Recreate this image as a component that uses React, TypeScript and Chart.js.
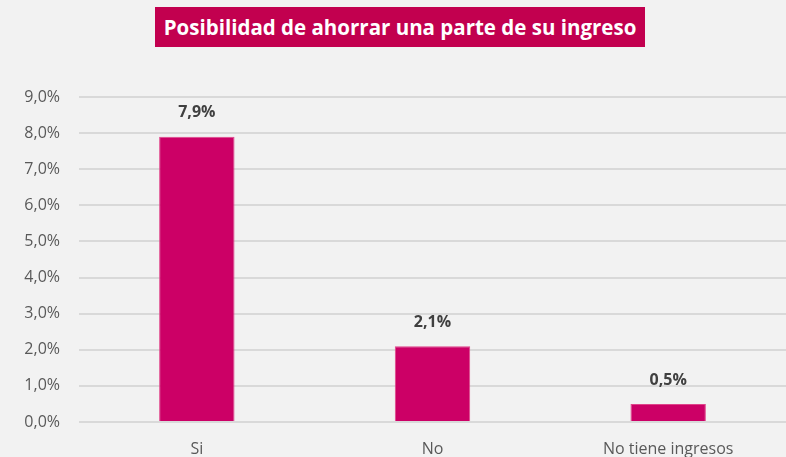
import React, { useEffect, useRef } from "react";
import { Chart, registerables } from "chart.js";
Chart.register(...registerables);

const categories = ["Si", "No", "No tiene ingresos"];
const values = [7.9, 2.1, 0.5];
const yTicks = [0, 1, 2, 3, 4, 5, 6, 7, 8, 9];
const titleText = "Posibilidad de ahorrar una parte de su ingreso";

const FONT = "'Open Sans', 'Noto Sans', sans-serif";
const fmt = (v: number) => v.toFixed(1).replace(".", ",") + "%";

const labelPlugin = {
  id: "barLabels",
  afterDatasetsDraw(chart: any) {
    const { ctx } = chart;
    const meta = chart.getDatasetMeta(0);
    ctx.save();
    ctx.font = `bold 16px ${FONT}`;
    ctx.fillStyle = "#404040";
    ctx.textAlign = "center";
    ctx.textBaseline = "middle";
    meta.data.forEach((bar: any, i: number) => {
      ctx.fillText(fmt(values[i]), bar.x, bar.y - 24);
    });
    ctx.restore();
  },
};

export default function App() {
  const ref = useRef<HTMLCanvasElement>(null);
  useEffect(() => {
    document.body.style.margin = "0";
    document.body.style.background = "#f2f2f2";
    const chart = new Chart(ref.current!, {
      type: "bar",
      data: {
        labels: categories,
        datasets: [
          {
            data: values,
            backgroundColor: "#cc0066",
            borderColor: "#e0448a",
            borderWidth: 1,
            categoryPercentage: 1,
            barPercentage: 0.32,
          },
        ],
      },
      options: {
        animation: false,
        responsive: false,
        maintainAspectRatio: false,
        layout: { padding: { top: 97, right: 0, left: 0, bottom: 0 } },
        plugins: { legend: { display: false }, tooltip: { enabled: false } },
        scales: {
          x: {
            afterFit: (s: any) => { s.height = 35; },
            grid: { display: false, drawTicks: false },
            border: { display: false },
            ticks: { color: "#595959", font: { family: FONT, size: 16 }, padding: 18 },
          },
          y: {
            min: 0,
            max: 9,
            afterFit: (s: any) => { s.width = 79; },
            afterBuildTicks: (s: any) => { s.ticks = yTicks.map((v) => ({ value: v })); },
            grid: { color: "#d9d9d9", lineWidth: 2, drawTicks: false },
            border: { display: false },
            ticks: {
              color: "#595959",
              font: { family: FONT, size: 16 },
              padding: 19,
              callback: (v: any) => fmt(Number(v)),
            },
          },
        },
      },
      plugins: [labelPlugin],
    });
    return () => chart.destroy();
  }, []);
  return (
    <div style={{ position: "relative", width: 786, height: 457, background: "#f2f2f2", overflow: "hidden" }}>
      <canvas ref={ref} width={786} height={457} style={{ position: "absolute", left: 0, top: 0 }} />
      <div
        style={{
          position: "absolute",
          left: 155,
          top: 7,
          width: 490,
          height: 40,
          background: "#c2004f",
          color: "#fff",
          fontFamily: FONT,
          fontWeight: 700,
          fontSize: 20.5,
          display: "flex",
          alignItems: "center",
          justifyContent: "center",
          whiteSpace: "nowrap",
        }}
      >
        {titleText}
      </div>
    </div>
  );
}
